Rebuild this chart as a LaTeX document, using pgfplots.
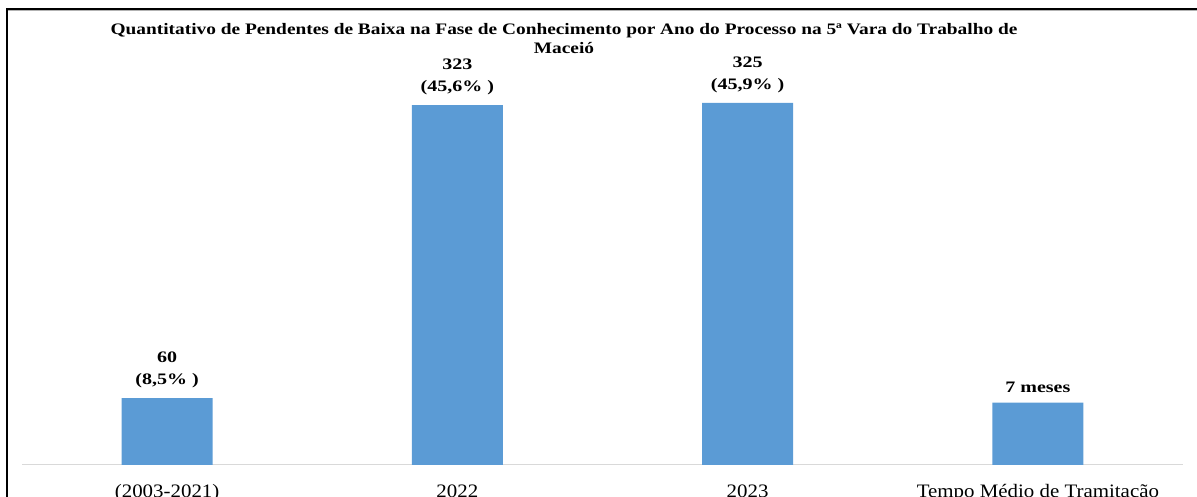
\documentclass[border=0pt]{standalone}
\usepackage{fontspec}
\setmainfont{Liberation Serif}
\usepackage{pgfplots}
\pgfplotsset{compat=1.18}
\definecolor{barblue}{HTML}{5B9BD5}
\definecolor{axgrey}{HTML}{D9D9D9}
\begin{document}
\begin{tikzpicture}[x=1bp,y=1bp]
\begin{axis}[
  at={(22bp,32bp)}, anchor=south west,
  scale only axis,
  width=1161bp, height=445.8bp,
  xmin=-0.5, xmax=3.5, ymin=0, ymax=400,
  axis y line=none,
  axis x line*=bottom,
  x axis line style={axgrey, line width=1bp, -},
  xtick={0,1,2,3},
  xticklabels={(2003-2021),2022,2023,Tempo Médio de Tramitação},
  major tick length=0pt,
  xticklabel style={anchor=base, yshift=-33bp, xscale=1.1, font=\fontsize{19bp}{21bp}\selectfont, inner sep=0pt},
  ybar, bar width=91bp,
  point meta=explicit symbolic,
  nodes near coords,
  nodes near coords style={align=center, anchor=south, inner sep=0pt, yshift=10bp, xscale=1.25,
    font=\fontsize{16bp}{22bp}\selectfont\bfseries},
  clip=false,
]
\addplot[fill=barblue, draw=none] coordinates {
  (0,60) [60\\(8,5\% )]
  (1,323) [323\\(45,6\% )]
  (2,325) [325\\(45,9\% )]
  (3,56) [7 meses]
};
\end{axis}
\node[anchor=base, inner sep=0pt, xscale=1.21, font=\fontsize{16bp}{18bp}\selectfont\bfseries] at (564,462)
  {Quantitativo de Pendentes de Baixa na Fase de Conhecimento por Ano do Processo na 5ª Vara do Trabalho de};
\node[anchor=base, inner sep=0pt, xscale=1.21, font=\fontsize{16bp}{18bp}\selectfont\bfseries] at (564,443) {Maceió};
\draw[black, line width=1.5bp] (7,0) -- (7,488) -- (1197,488);
\draw[gray!60, line width=0.8bp] (7.8,486.6) -- (1197,486.6);
\pgfresetboundingbox
\useasboundingbox (0,0) rectangle (1197,497);
\end{tikzpicture}
\end{document}
